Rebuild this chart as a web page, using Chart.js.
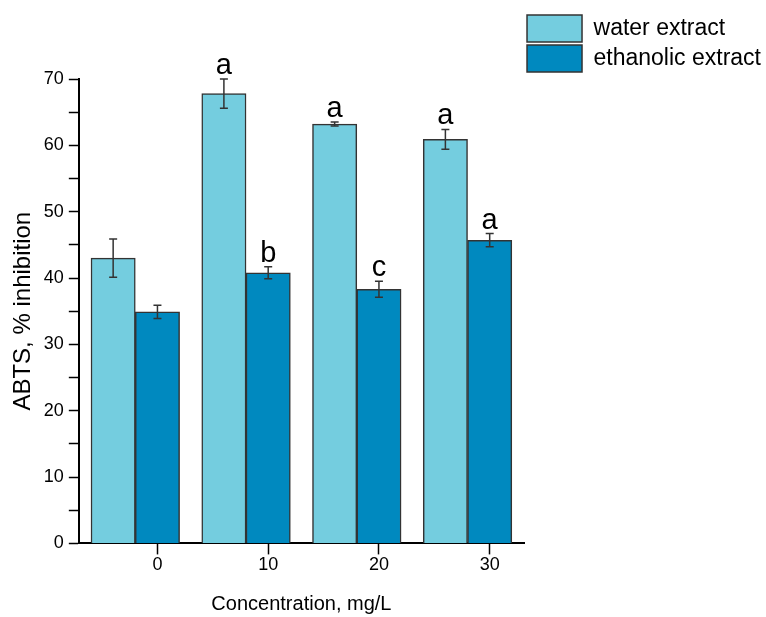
<!DOCTYPE html>
<html>
<head>
<meta charset="utf-8">
<script src="https://cdn.jsdelivr.net/npm/chart.js@4.4.1/dist/chart.umd.min.js"></script>
<style>
  body { margin: 0; background: #fff; }
</style>
</head>
<body>
<canvas id="myChart" width="766" height="617"></canvas>
<script>
const concentrations = [0, 10, 20, 30];
const waterMean = [43.0, 67.8, 63.2, 60.9];
const waterSD = [2.9, 2.2, 0.3, 1.5];
const waterLetters = ['', 'a', 'a', 'a'];
const ethanolMean = [34.9, 40.8, 38.3, 45.7];
const ethanolSD = [1.0, 0.9, 1.2, 1.0];
const ethanolLetters = ['', 'b', 'c', 'a'];
const yLabelled = [0, 10, 20, 30, 40, 50, 60, 70];

const sans = "'Liberation Sans', Arial, sans-serif";

// water bar sits one bar-width left of its concentration tick
const waterData = concentrations.map((c, i) => ({x: c - 4, y: waterMean[i]}));
const ethanolData = concentrations.map((c, i) => ({x: c, y: ethanolMean[i]}));

const errorBars = {
  id: 'errorBars',
  afterDatasetsDraw(chart) {
    const ctx = chart.ctx;
    const yScale = chart.scales.y;
    chart.data.datasets.forEach((ds, i) => {
      const meta = chart.getDatasetMeta(i);
      meta.data.forEach((bar, j) => {
        const v = ds.data[j].y, e = ds.sd[j];
        const top = yScale.getPixelForValue(v + e);
        const bot = yScale.getPixelForValue(v - e);
        ctx.save();
        ctx.strokeStyle = '#333';
        ctx.lineWidth = 1.5;
        ctx.beginPath();
        ctx.moveTo(bar.x, top); ctx.lineTo(bar.x, bot);
        ctx.moveTo(bar.x - 4, top); ctx.lineTo(bar.x + 4, top);
        ctx.moveTo(bar.x - 4, bot); ctx.lineTo(bar.x + 4, bot);
        ctx.stroke();
        if (ds.letters[j]) {
          ctx.fillStyle = '#000';
          ctx.font = '29px ' + sans;
          ctx.textAlign = 'center';
          ctx.textBaseline = 'alphabetic';
          ctx.fillText(ds.letters[j], bar.x, top - 5);
        }
        ctx.restore();
      });
    });
  }
};

// let the right-hand legend be as wide as its longest label
const wideLegend = {
  id: 'wideLegend',
  beforeLayout(chart) {
    const legend = chart.legend;
    if (!legend || legend._wide) return;
    legend._wide = true;
    const fit = legend.fit;
    legend.fit = function () {
      fit.call(this);
      if (this.columnSizes && this.columnSizes.length) {
        this.width = this.columnSizes[0].width + 8;
      }
    };
  }
};

new Chart("myChart", {
  type: "bar",
  data: {
    datasets: [{
      label: 'water extract',
      data: waterData,
      sd: waterSD,
      letters: waterLetters,
      backgroundColor: '#74cddf',
      borderColor: '#333',
      borderWidth: 1.5
    }, {
      label: 'ethanolic extract',
      data: ethanolData,
      sd: ethanolSD,
      letters: ethanolLetters,
      backgroundColor: '#0089bf',
      borderColor: '#333',
      borderWidth: 1.5
    }]
  },
  options: {
    responsive: false,
    animation: false,
    grouped: false,
    barPercentage: 1,
    categoryPercentage: 1,
    layout: {padding: {top: 12, left: 5, right: 0, bottom: 0}},
    scales: {
      x: {
        type: 'linear',
        min: -7.1,
        max: 33.1,
        offset: false,
        grid: {offset: false, drawOnChartArea: false, drawTicks: true, tickLength: 11, tickColor: '#000', tickWidth: 1.5},
        border: {color: '#000', width: 2},
        ticks: {stepSize: 10, includeBounds: false, color: '#000', font: {family: sans, size: 18}, padding: 0, maxRotation: 0},
        title: {display: true, text: 'Concentration, mg/L', color: '#000', font: {family: sans, size: 20}, padding: {top: 16, bottom: 1}}
      },
      y: {
        min: 0,
        max: 70,
        ticks: {
          stepSize: 5,
          color: '#000',
          font: {family: sans, size: 18},
          padding: 5,
          callback: (v) => yLabelled.includes(v) ? String(v) : ''
        },
        grid: {drawOnChartArea: false, drawTicks: true, tickLength: 10, tickColor: '#000', tickWidth: 1.5},
        border: {color: '#000', width: 2},
        title: {display: true, text: 'ABTS, % inhibition', color: '#000', font: {family: sans, size: 24}, padding: {top: 4, bottom: 1}}
      }
    },
    plugins: {
      title: {display: true, text: '', font: {size: 10}, padding: {top: 55, bottom: 0}},
      legend: {
        position: 'right',
        align: 'start',
        labels: {
          boxWidth: 55,
          boxHeight: 27,
          padding: 3,
          color: '#000',
          font: {family: sans, size: 23}
        }
      },
      tooltip: {enabled: false}
    }
  },
  plugins: [errorBars, wideLegend]
});
</script>
</body>
</html>
